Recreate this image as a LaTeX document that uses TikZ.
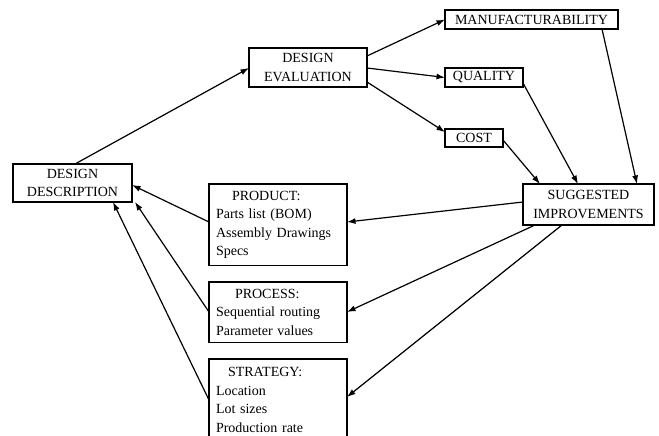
\documentclass[tikz,border=0pt]{standalone}
\usepackage{fontspec}
\setmainfont{Liberation Serif}
\usetikzlibrary{calc,arrows.meta}
\begin{document}
\begin{tikzpicture}[x=1pt,y=-1pt,
  font=\fontsize{14}{18.5}\selectfont,
  box/.style={draw=black,line width=1.4pt,anchor=north west,inner sep=0pt,outer sep=0pt,align=center},
  listbox/.style={box,align=left,inner sep=7pt,text width=124pt},
  conn/.style={line width=1.2pt,-{Latex[length=8.5pt,width=6pt]}}]
\clip (0,0) rectangle (659,436);
\fill[white] (0,0) rectangle (659,436);
% boxes
\node[box,minimum width=119pt,minimum height=38pt] (dd) at (13,164) {DESIGN\\DESCRIPTION};
\node[box,minimum width=118pt,minimum height=39pt] (de) at (249,48) {DESIGN\\EVALUATION};
\node[box,minimum width=173pt,minimum height=19pt] (mf) at (445,10) {MANUFACTURABILITY};
\node[box,minimum width=78pt,minimum height=19pt] (ql) at (445,68) {QUALITY};
\node[box,minimum width=58pt,minimum height=18pt] (co) at (445,129) {COST};
\node[box,minimum width=131pt,minimum height=41pt] (si) at (523,184) {SUGGESTED\\IMPROVEMENTS};
\node[listbox,minimum height=78pt] (pr) at (209,184) {\hspace*{16pt}PRODUCT:\\Parts list (BOM)\\Assembly Drawings\\Specs};
\node[listbox,minimum height=58pt] (pc) at (209,282) {\hspace*{19pt}PROCESS:\\Sequential routing\\Parameter values};
\node[listbox,minimum height=82pt] (st) at (209,359) {\hspace*{12pt}STRATEGY:\\Location\\Lot sizes\\Production rate};
% connectors
\draw[conn] ($(dd.north west)+(62,0)$) -- ($(de.north west)+(0,20)$);
\draw[conn] ($(de.north east)+(0,8)$) -- (mf.west);
\draw[conn] ($(de.north east)+(0,20)$) -- (ql.west);
\draw[conn] ($(de.north east)+(0,34)$) -- ($(co.north west)+(0,3)$);
\draw[conn] ($(co.north east)+(0,11)$) -- ($(si.north west)+(17,0)$);
\draw[conn] ($(ql.north east)+(0,15)$) -- ($(si.north west)+(55,0)$);
\draw[conn] ($(mf.south west)+(157,0)$) -- ($(si.north west)+(114,0)$);
\draw[conn] ($(si.north west)+(0,18)$) -- ($(pr.north east)+(0,38)$);
\draw[conn] ($(si.south west)+(12,0)$) -- ($(pc.north east)+(0,30)$);
\draw[conn] ($(si.south west)+(39,0)$) -- ($(st.north east)+(0,38)$);
\draw[conn] ($(pr.north west)+(0,38)$) -- ($(dd.north east)+(0,21)$);
\draw[conn] ($(pc.north west)+(0,30)$) -- ($(dd.south east)+(3,0)$);
\draw[conn] ($(st.north west)+(0,41)$) -- ($(dd.south west)+(100,0)$);
\end{tikzpicture}
\end{document}
